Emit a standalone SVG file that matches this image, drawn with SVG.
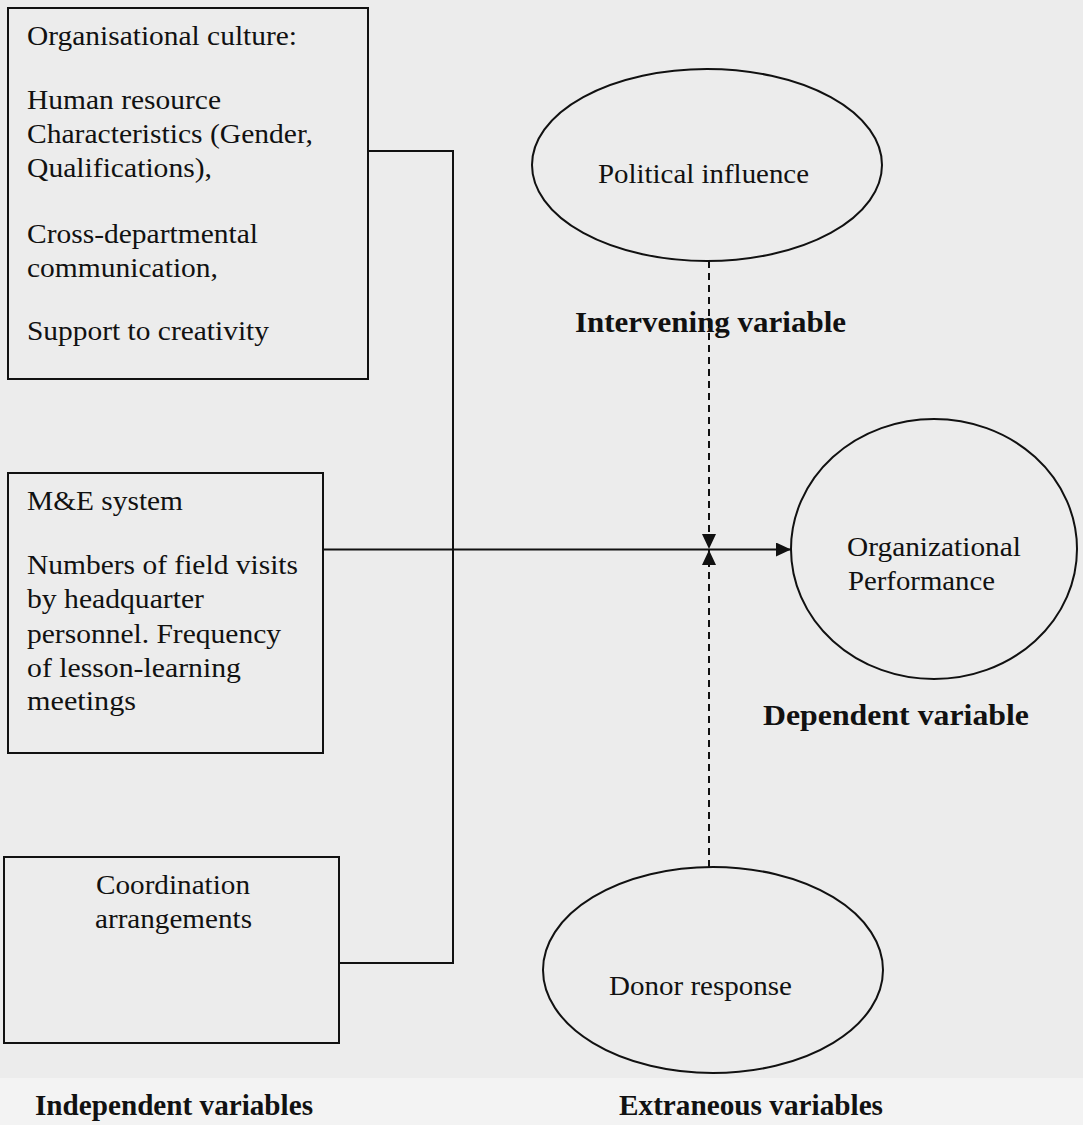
<svg xmlns="http://www.w3.org/2000/svg" width="1083" height="1125" viewBox="0 0 1083 1125">
  <style>
    .box { fill: none; stroke: #111; stroke-width: 2; }
    .ell { fill: none; stroke: #111; stroke-width: 2; }
    .t { font-family: "Liberation Serif", "Times New Roman", serif; font-size: 27px; fill: #111; }
    .b { font-family: "Liberation Serif", "Times New Roman", serif; font-size: 29px; font-weight: bold; fill: #111; }
    .conn { fill: none; stroke: #111; stroke-width: 2; }
    .dash { fill: none; stroke: #111; stroke-width: 2; stroke-dasharray: 7 5; }
  </style>
  <defs>
    <marker id="arrow" viewBox="0 0 15 14" refX="15" refY="7" markerWidth="15" markerHeight="14" markerUnits="userSpaceOnUse" orient="auto">
      <path d="M0,0 L15,7 L0,14 Z" fill="#111"/>
    </marker>
  </defs>
  <rect x="0" y="0" width="1083" height="1125" fill="#ececec"/>
  <rect x="0" y="1078" width="1083" height="47" fill="#f3f3f3"/>

  <g id="box-culture">
    <rect class="box" x="8" y="8" width="360" height="371"/>
    <text class="t" x="27" y="45" textLength="270" lengthAdjust="spacingAndGlyphs">Organisational culture:</text>
    <text class="t" x="27" y="109" textLength="194" lengthAdjust="spacingAndGlyphs">Human resource</text>
    <text class="t" x="27" y="143" textLength="286" lengthAdjust="spacingAndGlyphs">Characteristics (Gender,</text>
    <text class="t" x="27" y="177" textLength="185" lengthAdjust="spacingAndGlyphs">Qualifications),</text>
    <text class="t" x="27" y="243" textLength="231" lengthAdjust="spacingAndGlyphs">Cross-departmental</text>
    <text class="t" x="27" y="277" textLength="191" lengthAdjust="spacingAndGlyphs">communication,</text>
    <text class="t" x="27" y="340" textLength="242" lengthAdjust="spacingAndGlyphs">Support to creativity</text>
  </g>

  <g id="box-me">
    <rect class="box" x="8" y="473" width="315" height="280"/>
    <text class="t" x="27" y="510" textLength="156" lengthAdjust="spacingAndGlyphs">M&amp;E system</text>
    <text class="t" x="27" y="574" textLength="271" lengthAdjust="spacingAndGlyphs">Numbers of field visits</text>
    <text class="t" x="27" y="608" textLength="177" lengthAdjust="spacingAndGlyphs">by headquarter</text>
    <text class="t" x="27" y="643" textLength="254" lengthAdjust="spacingAndGlyphs">personnel. Frequency</text>
    <text class="t" x="27" y="677" textLength="214" lengthAdjust="spacingAndGlyphs">of lesson-learning</text>
    <text class="t" x="27" y="710" textLength="109" lengthAdjust="spacingAndGlyphs">meetings</text>
  </g>

  <g id="box-coord">
    <rect class="box" x="4" y="857" width="335" height="186"/>
    <text class="t" x="96" y="894" textLength="154" lengthAdjust="spacingAndGlyphs">Coordination</text>
    <text class="t" x="95" y="928" textLength="157" lengthAdjust="spacingAndGlyphs">arrangements</text>
  </g>

  <g id="ell-political">
    <ellipse class="ell" cx="707" cy="165" rx="175" ry="96"/>
    <text class="t" x="598" y="183" textLength="211" lengthAdjust="spacingAndGlyphs">Political influence</text>
  </g>

  <g id="ell-performance">
    <ellipse class="ell" cx="934" cy="549" rx="143" ry="130"/>
    <text class="t" x="847" y="556" textLength="174" lengthAdjust="spacingAndGlyphs">Organizational</text>
    <text class="t" x="848" y="590" textLength="147" lengthAdjust="spacingAndGlyphs">Performance</text>
  </g>

  <g id="ell-donor">
    <ellipse class="ell" cx="713" cy="970" rx="170" ry="103"/>
    <text class="t" x="609" y="995" textLength="183" lengthAdjust="spacingAndGlyphs">Donor response</text>
  </g>

  <g id="labels">
    <text class="b" x="575" y="332" textLength="271" lengthAdjust="spacingAndGlyphs">Intervening variable</text>
    <text class="b" x="763" y="725" textLength="266" lengthAdjust="spacingAndGlyphs">Dependent variable</text>
    <text class="b" x="35" y="1115" textLength="278" lengthAdjust="spacingAndGlyphs">Independent variables</text>
    <text class="b" x="619" y="1115" textLength="264" lengthAdjust="spacingAndGlyphs">Extraneous variables</text>
  </g>

  <g id="connectors">
    <polyline class="conn" points="368,151 453,151 453,963 339,963"/>
    <line class="conn" x1="323" y1="549.5" x2="791" y2="549.5" marker-end="url(#arrow)"/>
    <line class="dash" x1="709" y1="261" x2="709" y2="549" marker-end="url(#arrow)"/>
    <line class="dash" x1="709" y1="867" x2="709" y2="550" marker-end="url(#arrow)"/>
  </g>
</svg>
